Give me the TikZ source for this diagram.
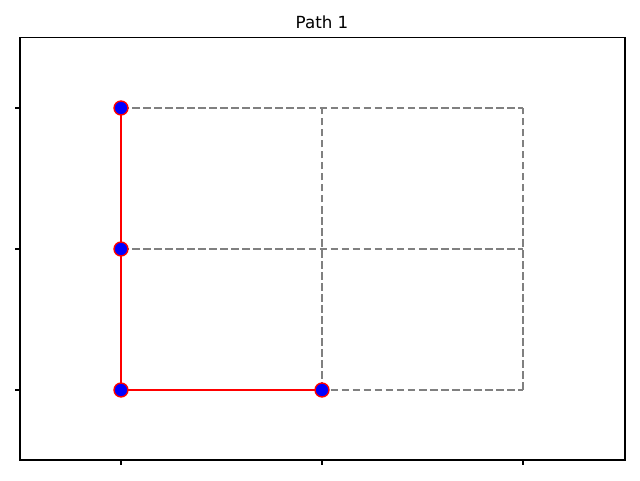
\documentclass[tikz,border=0pt]{standalone}
\usepackage{fontspec}
\setmainfont{DejaVu Sans}
\begin{document}
\begin{tikzpicture}[x=1pt,y=-1pt,
  grid/.style={draw=gray, line width=2.08pt, dash pattern=on 7.7pt off 3.33pt},
  pathline/.style={draw=red, line width=2.78pt},
  dot/.style={circle, fill=blue, draw=red, line width=1.4pt, minimum size=13.9pt, inner sep=0pt},
  frame/.style={draw=black, line width=1.11pt},
  tick/.style={draw=black, line width=1.11pt}]
\useasboundingbox (0,0) rectangle (640,480);
\node[font=\fontsize{16.7}{20}\selectfont] (title) at (322,22) {Path 1};
% grid points
\coordinate (p00) at (121,390);
\coordinate (p10) at (322,390);
\coordinate (p20) at (523,390);
\coordinate (p01) at (121,249);
\coordinate (p11) at (322,249);
\coordinate (p21) at (523,249);
\coordinate (p02) at (121,108);
\coordinate (p12) at (322,108);
\coordinate (p22) at (523,108);
% dashed grid
\draw[grid] (p00) -- (p10) -- (p20);
\draw[grid] (p01) -- (p11) -- (p21);
\draw[grid] (p02) -- (p12) -- (p22);
\draw[grid] (p00) -- (p01) -- (p02);
\draw[grid] (p10) -- (p11) -- (p12);
\draw[grid] (p20) -- (p21) -- (p22);
% path
\draw[pathline] (p02) -- (p01) -- (p00) -- (p10);
\node[dot] (a) at (p02) {};
\node[dot] (b) at (p01) {};
\node[dot] (c) at (p00) {};
\node[dot] (d) at (p10) {};
% axes frame
\draw[frame] (20,37.5) rectangle (625,460);
% ticks
\draw[tick] (20,108) -- (15.1,108);
\draw[tick] (20,249) -- (15.1,249);
\draw[tick] (20,390) -- (15.1,390);
\draw[tick] (121,460) -- (121,464.9);
\draw[tick] (322,460) -- (322,464.9);
\draw[tick] (523,460) -- (523,464.9);
\end{tikzpicture}
\end{document}
